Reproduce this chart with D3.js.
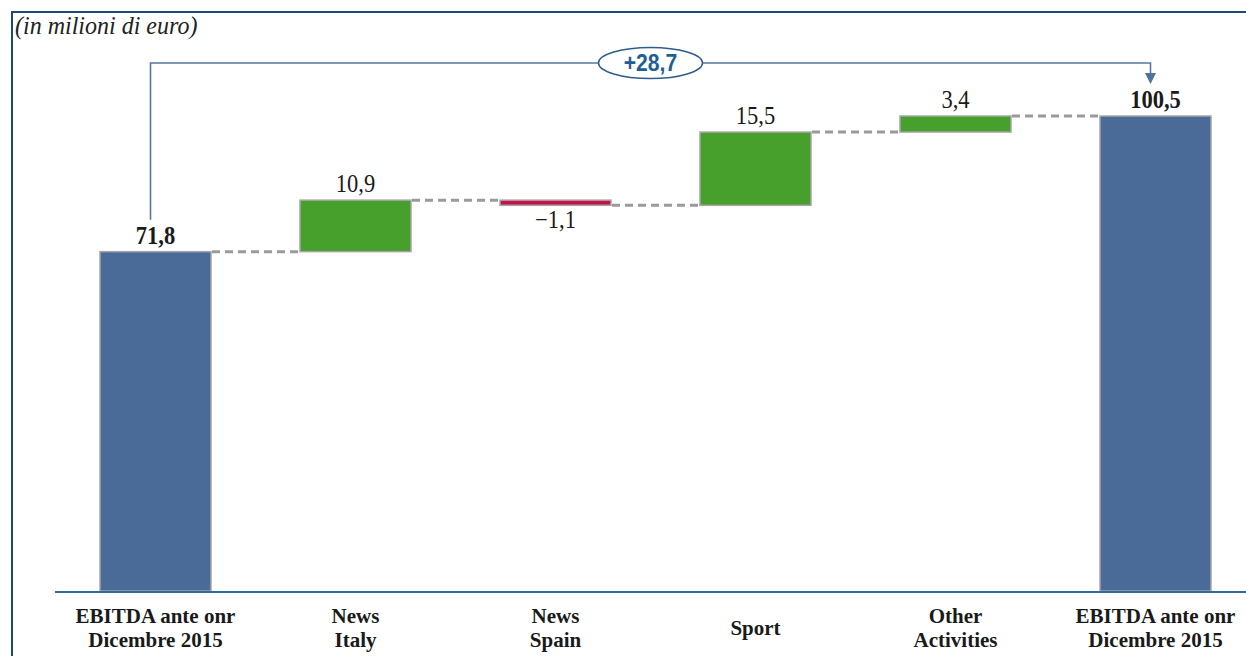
<!DOCTYPE html>
<html>
<head>
<meta charset="utf-8">
<script src="https://cdn.jsdelivr.net/npm/d3@7"></script>
<style>
  html, body { margin: 0; padding: 0; background: #fff; }
  svg { display: block; }
  .serif { font-family: "Liberation Serif", "Times New Roman", Times, serif; }
  .sans { font-family: "Liberation Sans", Arial, Helvetica, sans-serif; }
</style>
</head>
<body>
<svg id="chart" width="1246" height="656"></svg>
<script>
// ---- data ----
const categories = [
  ["EBITDA ante onr", "Dicembre 2015"],
  ["News", "Italy"],
  ["News", "Spain"],
  ["Sport"],
  ["Other", "Activities"],
  ["EBITDA ante onr", "Dicembre 2015"]
];
const values = [71.8, 10.9, -1.1, 15.5, 3.4, 100.5];
const kinds = ["total", "delta", "delta", "delta", "delta", "total"];
const valueLabels = ["71,8", "10,9", "\u22121,1", "15,5", "3,4", "100,5"];
const deltaLabel = "+28,7";
const unitLabel = "(in milioni di euro)";

// ---- build steps ----
let running = 0;
const steps = values.map((v, i) => {
  let start, end;
  if (kinds[i] === "total") { start = 0; end = v; running = v; }
  else { start = running; end = running + v; running = end; }
  return { i, v, kind: kinds[i], start, end, label: valueLabels[i], cat: categories[i] };
});

const svg = d3.select("#chart");
const W = 1246, H = 656;

const x = d3.scaleBand()
  .domain(d3.range(categories.length))
  .range([55.5, 1255.5])
  .paddingInner(0.445)
  .paddingOuter(0.2225);

const y = d3.scaleLinear().domain([0, 100.5]).range([591, 116]);

const colorFor = d => d.kind === "total" ? "#4a6a97" : (d.v >= 0 ? "#46a02b" : "#c5134b");

// frame
svg.append("path")
  .attr("d", `M12,${H + 5} L12,12 L${W + 5},12`)
  .attr("fill", "none")
  .attr("stroke", "#1b4a72")
  .attr("stroke-width", 2);

// unit label
svg.append("text")
  .attr("class", "serif")
  .attr("transform", "translate(15,34) scale(0.96,1)")
  .attr("font-style", "italic")
  .attr("font-size", 25)
  .attr("fill", "#222")
  .text(unitLabel);

// connectors
const conn = steps.slice(0, -1).map((d, k) => ({ x1: x(k) + x.bandwidth(), x2: x(k + 1), yv: d.end }));
svg.append("g").selectAll("line").data(conn).join("line")
  .attr("x1", d => d.x1 + 1).attr("x2", d => d.x2 - 1)
  .attr("y1", d => y(d.yv)).attr("y2", d => y(d.yv))
  .attr("stroke", "#9a9a9a")
  .attr("stroke-width", 3)
  .attr("stroke-dasharray", "8,5");

// bars
svg.append("g").selectAll("rect").data(steps).join("rect")
  .attr("x", d => x(d.i))
  .attr("width", x.bandwidth())
  .attr("y", d => y(Math.max(d.start, d.end)))
  .attr("height", d => Math.abs(y(d.start) - y(d.end)))
  .attr("fill", colorFor)
  .attr("stroke", "#a6a6a6")
  .attr("stroke-width", 1.5);

// axis line
svg.append("line")
  .attr("x1", 55).attr("x2", W)
  .attr("y1", y(0) + 1).attr("y2", y(0) + 1)
  .attr("stroke", "#2e6aa0")
  .attr("stroke-width", 2);

// value labels
svg.append("g").selectAll("text").data(steps).join("text")
  .attr("class", "serif")
  .attr("transform", d => {
    const cx = x(d.i) + x.bandwidth() / 2;
    const yy = d.v >= 0 ? y(Math.max(d.start, d.end)) - 8 : y(Math.min(d.start, d.end)) + 23;
    return `translate(${cx},${yy}) scale(0.9,1)`;
  })
  .attr("text-anchor", "middle")
  .attr("font-weight", d => d.kind === "total" ? "bold" : "normal")
  .attr("font-size", 25)
  .attr("fill", "#1a1a1a")
  .text(d => d.label);

// category labels (one text element per line)
const catLines = [];
steps.forEach(d => {
  const base = d.cat.length === 1 ? 635 : 622.5;
  d.cat.forEach((ln, j) => catLines.push({ i: d.i, text: ln, yy: base + j * 24.5 }));
});
svg.append("g").selectAll("text").data(catLines).join("text")
  .attr("class", "serif")
  .attr("x", d => x(d.i) + x.bandwidth() / 2)
  .attr("y", d => d.yy)
  .attr("text-anchor", "middle")
  .attr("font-weight", "bold")
  .attr("font-size", 21)
  .attr("fill", "#1a1a1a")
  .text(d => d.text);

// bracket with arrow showing total change
const first = steps[0], last = steps[steps.length - 1];
const bx1 = x(first.i) + x.bandwidth() / 2 - 5;
const bx2 = x(last.i) + x.bandwidth() / 2 - 5;
const by = 63;
const yStart = y(first.end) - 32;
const yTip = y(last.end) - 32;
svg.append("path")
  .attr("d", `M${bx1},${yStart} L${bx1},${by} L${bx2},${by} L${bx2},${yTip - 9}`)
  .attr("fill", "none")
  .attr("stroke", "#5677a3")
  .attr("stroke-width", 1.6);
svg.append("path")
  .attr("d", `M${bx2 - 5.5},${yTip - 11} L${bx2 + 5.5},${yTip - 11} L${bx2},${yTip} Z`)
  .attr("fill", "#4f72a0");

const ex = (bx1 + bx2) / 2;
svg.append("ellipse")
  .attr("cx", ex).attr("cy", by)
  .attr("rx", 52).attr("ry", 15.5)
  .attr("fill", "#fff")
  .attr("stroke", "#2f5d8e")
  .attr("stroke-width", 1.5);
svg.append("text")
  .attr("class", "sans")
  .attr("transform", `translate(${ex},${by + 8}) scale(0.92,1)`)
  .attr("text-anchor", "middle")
  .attr("font-weight", "bold")
  .attr("font-size", 23)
  .attr("fill", "#1d5e93")
  .text(deltaLabel);
</script>
</body>
</html>
